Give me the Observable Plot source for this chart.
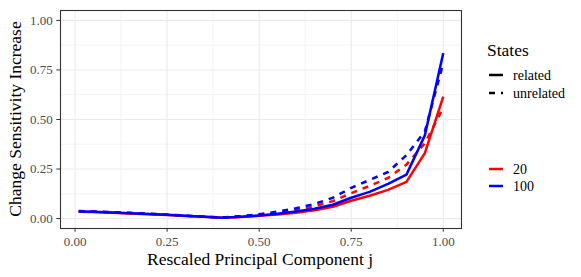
<!DOCTYPE html>
<html><head><meta charset="utf-8">
<script src="https://cdn.jsdelivr.net/npm/d3@7"></script>
<script src="https://cdn.jsdelivr.net/npm/@observablehq/plot@0.6"></script>
<style>
body{margin:0;background:#fff;}
</style></head><body>
<script>
const xs = [0.01,0.05,0.1,0.15,0.2,0.25,0.3,0.35,0.4,0.45,0.5,0.55,0.6,0.65,0.7,0.75,0.8,0.85,0.9,0.95,1.0];
const red_related   = [0.035,0.033,0.030,0.026,0.022,0.018,0.013,0.009,0.004,0.008,0.014,0.020,0.030,0.042,0.060,0.090,0.115,0.145,0.185,0.330,0.615];
const blue_related  = [0.036,0.034,0.031,0.027,0.023,0.019,0.014,0.009,0.004,0.009,0.016,0.024,0.036,0.050,0.070,0.105,0.135,0.175,0.222,0.420,0.835];
const red_unrel     = [0.037,0.035,0.032,0.028,0.024,0.019,0.014,0.009,0.005,0.010,0.018,0.028,0.042,0.062,0.088,0.128,0.165,0.205,0.272,0.380,0.560];
const blue_unrel    = [0.038,0.036,0.033,0.029,0.025,0.020,0.015,0.010,0.006,0.012,0.022,0.035,0.052,0.074,0.105,0.155,0.195,0.235,0.320,0.440,0.785];
const xTicks = [0, 0.25, 0.5, 0.75, 1];
const yTicks = [0, 0.25, 0.5, 0.75, 1];
const xMinor = [0.125, 0.375, 0.625, 0.875];
const yMinor = [0.125, 0.375, 0.625, 0.875];
const stateLabels = ["20", "100"];
const typeLabels = ["related", "unrelated"];

const series = [
  {states:"20", type:"related", vals:red_related, color:"#ff0000"},
  {states:"20", type:"unrelated", vals:red_unrel, color:"#ff0000"},
  {states:"100", type:"related", vals:blue_related, color:"#0000ff"},
  {states:"100", type:"unrelated", vals:blue_unrel, color:"#0000ff"}
];
const lineMarks = series.map(s => Plot.line(xs.map((x,i)=>({x, y:s.vals[i]})), {
  x:"x", y:"y", stroke:s.color, strokeWidth:2.5,
  strokeDasharray: s.type==="unrelated" ? "6,6" : null, strokeLinecap:"butt"
}));
const F = "Liberation Serif";
const chart = Plot.plot({
  width:581, height:277,
  marginLeft:60, marginRight:120, marginTop:10, marginBottom:49,
  style:{fontFamily:F, background:"#fff"},
  x:{domain:[-0.0395,1.0495], ticks:xTicks, tickFormat:d3.format(".2f"), label:null},
  y:{domain:[-0.05,1.05], ticks:yTicks, tickFormat:d3.format(".2f"), label:null},
  marks:[
    Plot.ruleX(xMinor,{stroke:"#ebebeb", strokeWidth:0.6}),
    Plot.ruleY(yMinor,{stroke:"#ebebeb", strokeWidth:0.6}),
    Plot.ruleX(xTicks,{stroke:"#ebebeb", strokeWidth:1.1}),
    Plot.ruleY(yTicks,{stroke:"#ebebeb", strokeWidth:1.1}),
    ...lineMarks,
    Plot.frame({stroke:"#333333", strokeWidth:1.1}),
    Plot.axisX({ticks:xTicks, tickFormat:d3.format(".2f"), tickSize:3.7, tickPadding:5, stroke:"#333", fill:"#4d4d4d", fontSize:13, fontFamily:F, label:null}),
    Plot.axisY({ticks:yTicks, tickFormat:d3.format(".2f"), tickSize:3.7, tickPadding:4, stroke:"#333", fill:"#4d4d4d", fontSize:13, fontFamily:F, label:null})
  ]
});
document.body.appendChild(chart);

const svg = d3.select(chart);
function txt(x,y,s,size,anchor){
  return svg.append("text").attr("x",x).attr("y",y).attr("font-size",size)
    .attr("text-anchor",anchor||"start").attr("fill","#000")
    .attr("font-family",F).text(s);
}
txt(260,265,"Rescaled Principal Component j",17.5,"middle");
svg.append("text").attr("transform","translate(21,119) rotate(-90)").attr("text-anchor","middle")
  .attr("font-size",17.5).attr("fill","#000").attr("font-family",F)
  .text("Change Sensitivity Increase");

txt(487,56,"States",17.5);
const typeKeys = [{t:typeLabels[0], y:75, dash:null},{t:typeLabels[1], y:93, dash:"6,6"}];
typeKeys.forEach(k=>{
  svg.append("line").attr("x1",489).attr("x2",503).attr("y1",k.y).attr("y2",k.y)
    .attr("stroke","#000").attr("stroke-width",2.5).attr("stroke-dasharray",k.dash);
  txt(513,k.y+4.5,k.t,14);
});
const colKeys = [{t:stateLabels[0], y:169, c:"#ff0000"},{t:stateLabels[1], y:186, c:"#0000ff"}];
colKeys.forEach(k=>{
  svg.append("line").attr("x1",489).attr("x2",503).attr("y1",k.y).attr("y2",k.y)
    .attr("stroke",k.c).attr("stroke-width",2.5);
  txt(513,k.y+4.5,k.t,14);
});
</script>
</body></html>
